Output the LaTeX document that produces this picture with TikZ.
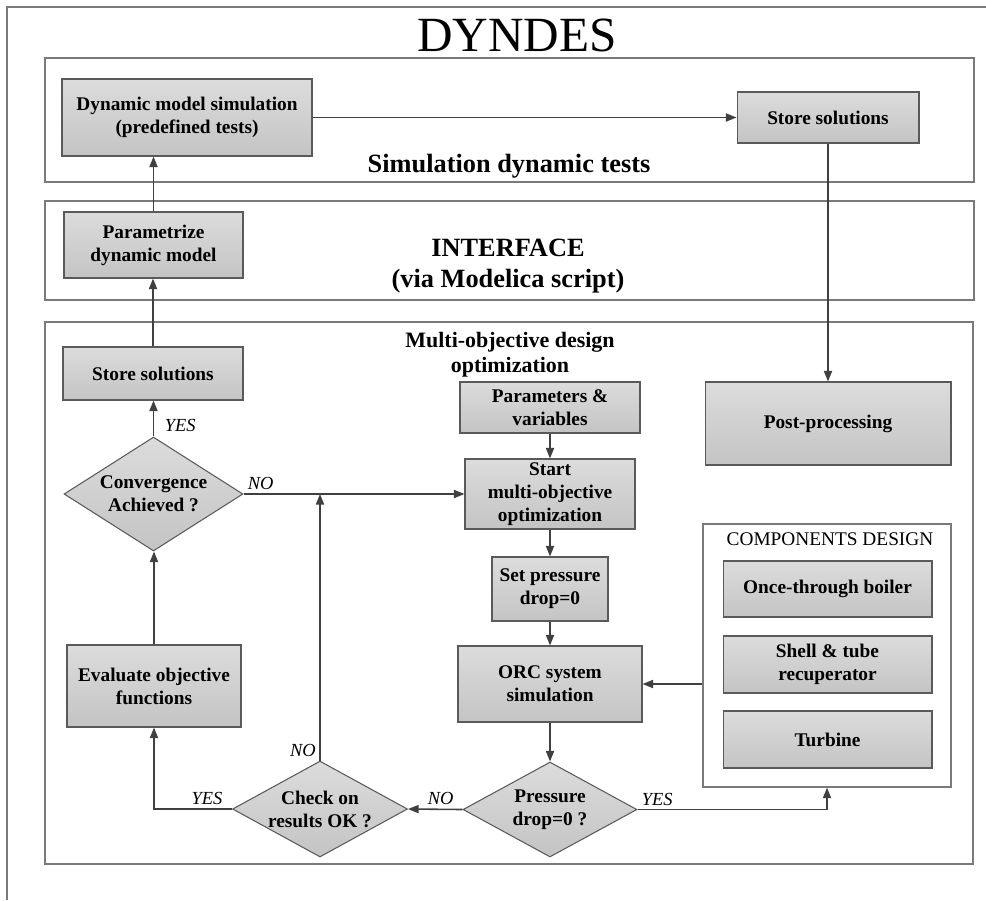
\documentclass[tikz,border=0pt]{standalone}
\usepackage{fontspec}
\setmainfont{Liberation Serif}
\usetikzlibrary{shapes.geometric,arrows.meta}
\definecolor{linegray}{HTML}{404040}
\definecolor{framegray}{HTML}{7A7A7A}
\definecolor{boxgray}{HTML}{5A5A5A}
\definecolor{blktop}{HTML}{DCDCDC}
\definecolor{blkbot}{HTML}{C4C4C4}
\tikzset{
  blk/.style={draw=boxgray, line width=0.6pt, top color=blktop, bottom color=blkbot,
    align=center, font=\fontsize{11}{13}\selectfont\bfseries, inner sep=2pt},
  dec/.style={blk, diamond, aspect=1.8, inner xsep=-6pt, inner ysep=-4pt},
  arr/.style={draw=linegray, line width=0.9pt, -{Triangle[length=6pt,width=4.6pt]}},
  lab/.style={font=\fontsize{10.5}{12}\selectfont\itshape, inner sep=2pt},
  panel/.style={draw=framegray, line width=0.7pt},
}
\begin{document}
\begin{tikzpicture}[x=0.02cm, y=-0.02cm]
\useasboundingbox (0,0) rectangle (986,900);
% frame and the three panels
\draw[framegray, line width=0.7pt] (7,900) -- (7,7) -- (986,7);
\draw[panel] (45,58) rectangle (974,182);
\draw[panel] (45,201) rectangle (974,300);
\draw[panel] (45,322) rectangle (973,864);
\node[font=\fontsize{28}{30}\selectfont, anchor=base] (title) at (517,51) {DYNDES};
\node[font=\fontsize{15}{17.5}\selectfont\bfseries, anchor=base] (simtitle) at (509,172) {Simulation dynamic tests};
\node[font=\fontsize{15}{17.5}\selectfont\bfseries, align=center] (iftitle) at (508,266) {INTERFACE\\(via Modelica script)};
\node[font=\fontsize{12.5}{14.3}\selectfont\bfseries, align=center] (optitle) at (510,355) {Multi-objective design\\optimization};
\node[panel, minimum width=4.96cm, minimum height=5.26cm] (compbox) at (827,655.5) {};
\node[font=\fontsize{11}{13}\selectfont, anchor=base] (comptitle) at (830,545) {COMPONENTS DESIGN};
% blocks
\node[blk, minimum width=5cm, minimum height=1.54cm] (dynsim) at (187,117.5) {Dynamic model simulation\\(predefined tests)};
\node[blk, minimum width=3.64cm, minimum height=1.02cm] (storesim) at (828,117.5) {Store solutions};
\node[blk, minimum width=3.58cm, minimum height=1.32cm] (param) at (153.5,245) {Parametrize\\dynamic model};
\node[blk, minimum width=3.6cm, minimum height=1.06cm] (storeopt) at (153,373.5) {Store solutions};
\node[dec, minimum width=3.58cm, minimum height=2.28cm] (conv) at (153.5,494) {Convergence\\Achieved ?};
\node[blk, minimum width=3.48cm, minimum height=1.64cm] (evalobj) at (154,686) {Evaluate objective\\functions};
\node[dec, minimum width=3.5cm, minimum height=1.92cm] (check) at (320,809) {Check on\\results OK ?};
\node[blk, minimum width=3.6cm, minimum height=1.02cm] (parvar) at (550,407.5) {Parameters \&\\variables};
\node[blk, minimum width=3.4cm, minimum height=1.4cm, inner ysep=1pt] (startopt) at (550,494) {Start\\multi-objective\\optimization};
\node[blk, minimum width=2.32cm, minimum height=1.28cm] (setdrop) at (550,589) {Set pressure\\drop=0};
\node[blk, minimum width=3.68cm, minimum height=1.52cm] (orcsim) at (550,684) {ORC system\\simulation};
\node[dec, minimum width=3.48cm, minimum height=1.9cm] (pdrop) at (550,809.5) {Pressure\\drop=0 ?};
\node[blk, minimum width=4.92cm, minimum height=1.66cm] (postproc) at (828,423.5) {Post-processing};
\node[blk, minimum width=4.18cm, minimum height=1.12cm] (boiler) at (827.5,589) {Once-through boiler};
\node[blk, minimum width=4.18cm, minimum height=1.14cm] (recup) at (827.5,664.5) {Shell \& tube\\recuperator};
\node[blk, minimum width=4.18cm, minimum height=1.14cm] (turbine) at (827.5,739.5) {Turbine};
% connectors
\draw[arr] (dynsim) -- (storesim);
\draw[arr] (storesim) -- (postproc);
\draw[arr] (param.north) -- (param.north |- dynsim.south);
\draw[arr] (storeopt.north) -- (storeopt.north |- param.south);
\draw[arr] (conv.north) -- node[lab, right=4pt, pos=0.3] {YES} (conv.north |- storeopt.south);
\draw[arr] (conv.east) -- node[lab, anchor=south west, pos=0] {NO} (startopt.west);
\draw[arr] (evalobj.north) -- (evalobj.north |- conv.south);
\draw[arr] (check.north) -- node[lab, anchor=south east, pos=0] {NO} (check.north |- conv.east);
\draw[arr] (check.west) -| node[lab, above, pos=0.16] {YES} (evalobj.south);
\draw[arr] (pdrop.west) -- node[lab, above, pos=0.4] {NO} (check.east);
\draw[arr] (pdrop.east) -| node[lab, anchor=south west, pos=0] {YES} (compbox.south);
\draw[arr] (orcsim.east -| compbox.west) -- (orcsim.east);
\foreach \a/\b in {parvar/startopt, startopt/setdrop, setdrop/orcsim, orcsim/pdrop}
  \draw[arr] (\a) -- (\b);
\end{tikzpicture}
\end{document}
